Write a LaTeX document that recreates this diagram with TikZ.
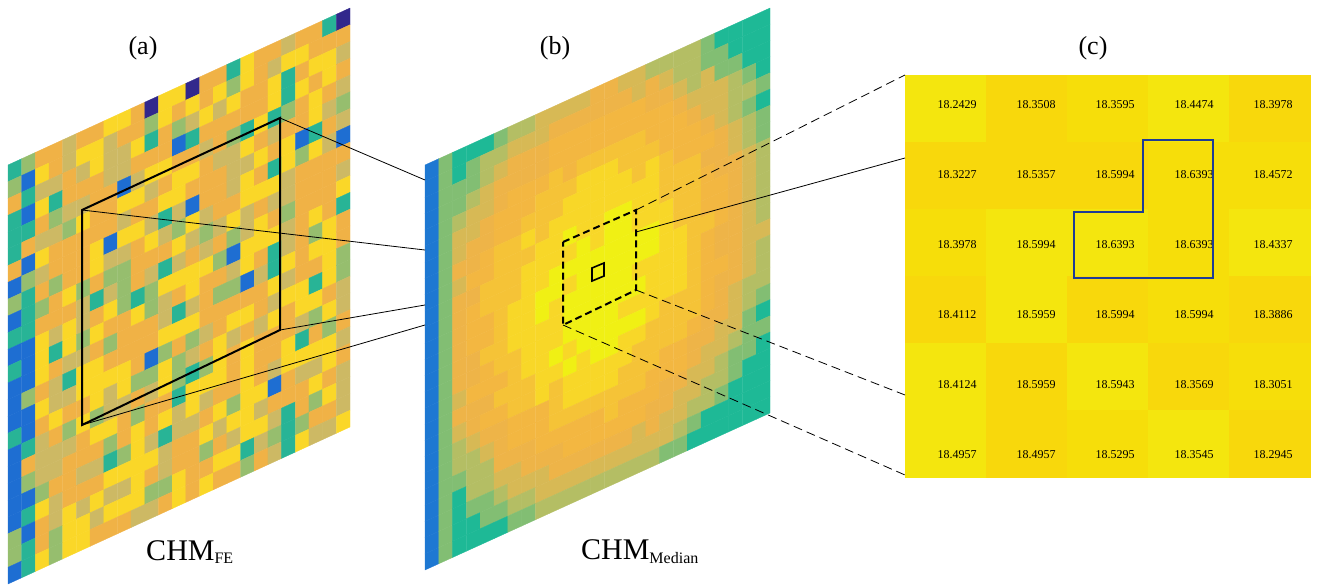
\documentclass[tikz,border=0pt]{standalone}
\usepackage{fontspec}
\setmainfont{Liberation Serif}
\begin{document}
\definecolor{c0}{RGB}{250,215,40}
\definecolor{c1}{RGB}{240,178,70}
\definecolor{c2}{RGB}{205,185,100}
\definecolor{c3}{RGB}{150,190,110}
\definecolor{c4}{RGB}{40,180,150}
\definecolor{c5}{RGB}{30,110,210}
\definecolor{c6}{RGB}{50,40,140}
\definecolor{m0}{RGB}{240,240,20}
\definecolor{m1}{RGB}{248,215,40}
\definecolor{m2}{RGB}{245,195,55}
\definecolor{m3}{RGB}{243,183,65}
\definecolor{m4}{RGB}{238,180,72}
\definecolor{m5}{RGB}{215,185,85}
\definecolor{m6}{RGB}{180,190,100}
\definecolor{m7}{RGB}{130,190,115}
\definecolor{m8}{RGB}{30,185,150}
\definecolor{m9}{RGB}{30,120,210}
\definecolor{y0}{RGB}{246,222,10}
\definecolor{y1}{RGB}{244,230,14}
\definecolor{y2}{RGB}{248,216,12}
\definecolor{bl}{RGB}{30,60,150}
\tikzset{lab/.style={font=\fontsize{26}{26}\selectfont},
 num/.style={font=\fontsize{12}{12}\selectfont},
 conn/.style={line width=0.8pt},
 dconn/.style={line width=0.8pt,dash pattern=on 9pt off 5pt}}
\begin{tikzpicture}[x=1pt,y=-1pt]
\useasboundingbox (0,0) rectangle (1322,584);
\pgfmathsetseed{7}
% panel a
\begin{scope}[shift={(8,165)},x={(13.68pt,6.28pt)},y={(0pt,-16.76pt)}]
\foreach \i in {0,...,24}{\foreach \j in {0,...,24}{
 \pgfmathtruncatemacro\r{random(0,99)}
 \pgfmathtruncatemacro\c{\i<2 ? (\r<30?5:(\r<70?4:(\r<85?3:1))) : (\r<35?1:(\r<62?0:(\r<82?2:(\r<91?3:(\r<97?4:(\r<99?5:6))))))}
 \fill[c\c,draw=c\c,line width=0.3pt] (\i,\j) -- ++(1,0) -- ++(0,1) -- ++(-1,0) -- cycle;
}}
\end{scope}
% panel b
\begin{scope}[shift={(425,165)},x={(13.8pt,6.28pt)},y={(0pt,-16.2pt)}]
\foreach \i in {0,...,24}{\foreach \j in {0,...,24}{
 \pgfmathsetmacro\d{sqrt(((\i-12)/12.5)^2+((\j-11.5)/13)^2)}
 \pgfmathtruncatemacro\c{\i<1 ? 9 : (\i<2 ? 7 : min(8,int(\d^2*6.2+rnd*0.9)))}
 \fill[m\c,draw=m\c,line width=0.3pt] (\i,\j) -- ++(1,0) -- ++(0,1) -- ++(-1,0) -- cycle;
}}
\end{scope}
% panel c
\foreach \i in {0,...,4}{\foreach \j in {0,...,5}{
 \pgfmathtruncatemacro\c{random(0,2)}
 \fill[y\c] (905+\i*81,75+\j*67) rectangle ++(81.5,67.5);
}}
\node[lab] (la) at (143,48) {(a)};
\node[lab] (lb) at (555,48) {(b)};
\node[lab] (lc) at (1093,48) {(c)};
\node[font=\fontsize{30}{30}\selectfont] (ta) at (190,552) {CHM\textsubscript{\fontsize{16}{16}\selectfont FE}};
\node[font=\fontsize{30}{30}\selectfont] (tb) at (640,552) {CHM\textsubscript{\fontsize{16}{16}\selectfont Median}};
\foreach \r [count=\j from 0] in {
 {18.2429,18.3508,18.3595,18.4474,18.3978},
 {18.3227,18.5357,18.5994,18.6393,18.4572},
 {18.3978,18.5994,18.6393,18.6393,18.4337},
 {18.4112,18.5959,18.5994,18.5994,18.3886},
 {18.4124,18.5959,18.5943,18.3569,18.3051},
 {18.4957,18.4957,18.5295,18.3545,18.2945}}{
 \foreach \v [count=\i from 0] in \r {
  \node[num] (n\i\j) at (957+\i*79,105+\j*70) {\v};
 }}
\draw[bl,line width=1.6pt] (1143,140) -- (1213,140) -- (1213,278) -- (1074,278) -- (1074,212) -- (1143,212) -- cycle;
\coordinate (a1) at (82,210); \coordinate (a2) at (280,118);
\coordinate (a3) at (280,330); \coordinate (a4) at (82,425);
\draw[line width=2pt] (a1) -- (a2) -- (a3) -- (a4) -- cycle;
\coordinate (b2) at (425,180); \coordinate (b1) at (425,250);
\coordinate (b3) at (425,305); \coordinate (b4) at (425,325);
\draw[conn] (a2) -- (b2); \draw[conn] (a1) -- (b1);
\draw[conn] (a3) -- (b3); \draw[conn] (a4) -- (b4);
\coordinate (d1) at (563,242); \coordinate (d2) at (636,210);
\coordinate (d3) at (636,290); \coordinate (d4) at (563,325);
\draw[line width=2pt,dash pattern=on 7pt off 4pt] (d1) -- (d2) -- (d3) -- (d4) -- cycle;
\draw[line width=1.6pt] (592,268) -- (604,263) -- (604,276) -- (592,281) -- cycle;
\coordinate (c1) at (905,75); \coordinate (c2) at (905,158);
\coordinate (c3) at (905,395); \coordinate (c4) at (905,475);
\draw[dconn] (d2) -- (c1);
\draw[conn] (636,232) -- (c2);
\draw[dconn] (d3) -- (c3);
\draw[dconn] (d4) -- (c4);
\end{tikzpicture}
\end{document}
